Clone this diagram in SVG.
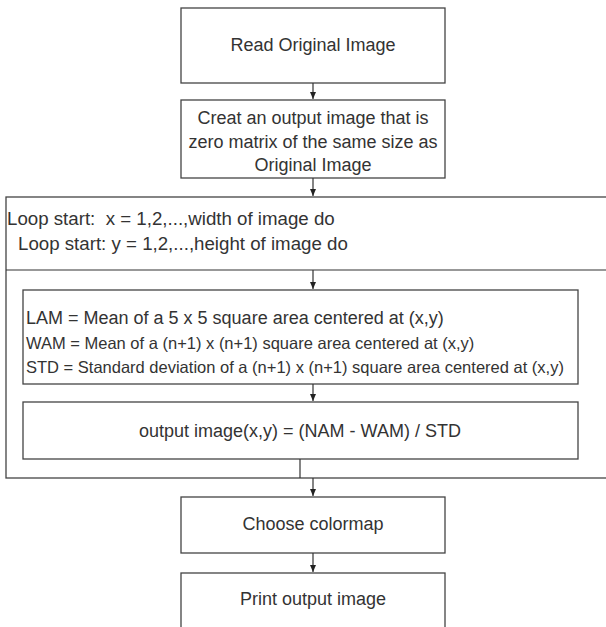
<svg xmlns="http://www.w3.org/2000/svg" width="606" height="627" viewBox="0 0 606 627">
<style>
.box{fill:#fff;stroke:#444;stroke-width:1.3}
.t{font-family:"Liberation Sans",Arial,sans-serif;font-size:18px;fill:#333}
.c{text-anchor:middle}
.s{font-size:16.5px}
.l{font-size:18.7px}
.ln{stroke:#333;stroke-width:1.2;fill:none}
</style>
<defs>
<marker id="ah" markerWidth="8" markerHeight="8" refX="7" refY="4" orient="auto" markerUnits="userSpaceOnUse">
<path d="M0,1 L7,4 L0,7 Z" fill="#222"/>
</marker>
</defs>
<rect x="0" y="0" width="606" height="627" fill="#fff"/>
<g id="read">
<rect class="box" x="181" y="8" width="264" height="75"/>
<text class="t c" x="313" y="51">Read Original Image</text>
</g>
<g id="create">
<rect class="box" x="181" y="100" width="264" height="78"/>
<text class="t c" x="313" y="124">Creat an output image that is</text>
<text class="t c" x="313" y="148">zero matrix of the same size as</text>
<text class="t c" x="313" y="171">Original Image</text>
</g>
<g id="loop">
<rect class="box" x="6" y="197" width="620" height="281"/>
<line class="ln" x1="6" y1="270" x2="606" y2="270"/>
<text class="t l" x="7" y="225" xml:space="preserve">Loop start:  x = 1,2,...,width of image do</text>
<text class="t l" x="18" y="250">Loop start: y = 1,2,...,height of image do</text>
</g>
<g id="compute">
<rect class="box" x="23" y="290" width="555" height="94"/>
<text class="t" x="26" y="324">LAM = Mean of a 5 x 5 square area centered at (x,y)</text>
<text class="t s" x="26" y="349">WAM = Mean of a (n+1) x (n+1) square area centered at (x,y)</text>
<text class="t s" x="26" y="373">STD = Standard deviation of a (n+1) x (n+1) square area centered at (x,y)</text>
</g>
<g id="output">
<rect class="box" x="23" y="402" width="555" height="57"/>
<text class="t c" x="300" y="437">output image(x,y) = (NAM - WAM) / STD</text>
</g>
<g id="colormap">
<rect class="box" x="181" y="497" width="264" height="56"/>
<text class="t c" x="313" y="530">Choose colormap</text>
</g>
<g id="print">
<rect class="box" x="181" y="573" width="264" height="70"/>
<text class="t c" x="313" y="605">Print output image</text>
</g>
<g id="connectors">
<line class="ln" x1="313" y1="83" x2="313" y2="99" marker-end="url(#ah)"/>
<line class="ln" x1="313" y1="178" x2="313" y2="196" marker-end="url(#ah)"/>
<line class="ln" x1="313" y1="270" x2="313" y2="289" marker-end="url(#ah)"/>
<line class="ln" x1="313" y1="384" x2="313" y2="401" marker-end="url(#ah)"/>
<line class="ln" x1="300" y1="459" x2="300" y2="478"/>
<line class="ln" x1="313" y1="478" x2="313" y2="496" marker-end="url(#ah)"/>
<line class="ln" x1="313" y1="553" x2="313" y2="572" marker-end="url(#ah)"/>
</g>
</svg>
